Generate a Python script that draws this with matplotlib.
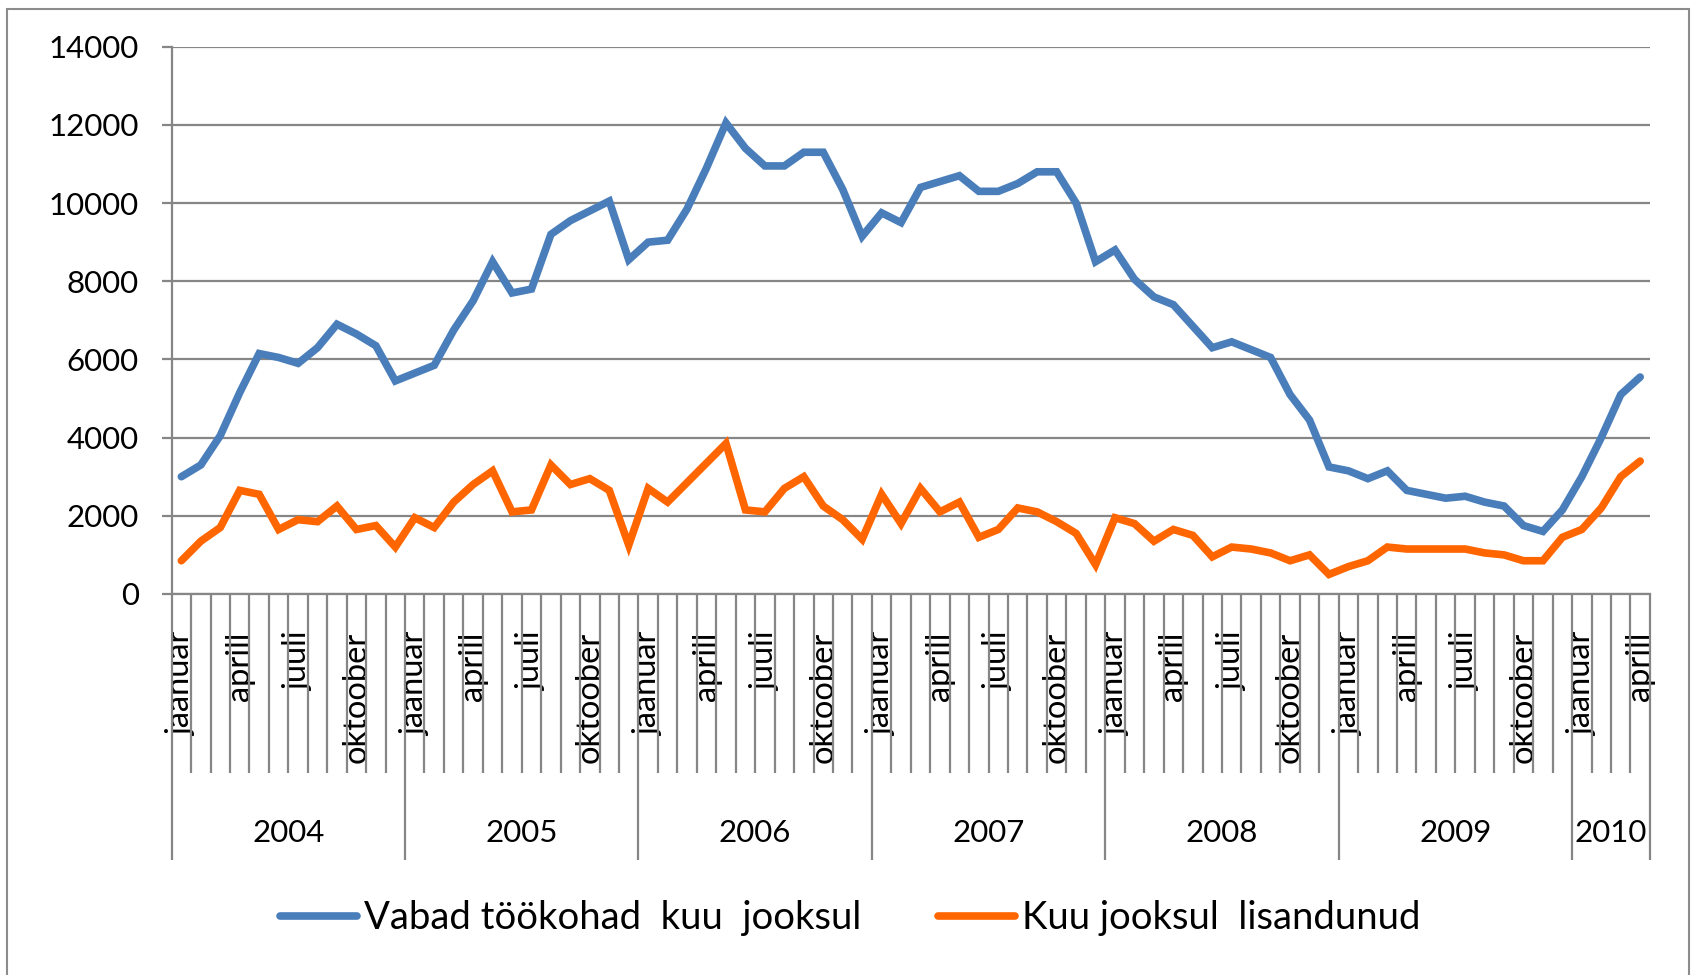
import matplotlib
matplotlib.use("Agg")
import matplotlib.pyplot as plt
from matplotlib.patches import Rectangle

plt.rcParams['font.family'] = ['Lato', 'DejaVu Sans']

# --- data (Jan 2004 .. Apr 2010, monthly) ---
months = ["jaanuar", "veebruar", "märts", "aprill", "mai", "juuni",
          "juuli", "august", "september", "oktoober", "november", "detsember"]
years = ["2004", "2005", "2006", "2007", "2008", "2009", "2010"]
months_per_year = [12, 12, 12, 12, 12, 12, 4]

vabad = [3000, 3300, 4050, 5150, 6150, 6050, 5900, 6300, 6900, 6650, 6350, 5450,
         5650, 5850, 6750, 7500, 8500, 7700, 7800, 9200, 9550, 9800, 10050, 8550,
         9000, 9050, 9850, 10900, 12050, 11400, 10950, 10950, 11300, 11300, 10350, 9150,
         9750, 9500, 10400, 10550, 10700, 10300, 10300, 10500, 10800, 10800, 10000, 8500,
         8800, 8050, 7600, 7400, 6850, 6300, 6450, 6250, 6050, 5100, 4450, 3250,
         3150, 2950, 3150, 2650, 2550, 2450, 2500, 2350, 2250, 1750, 1600, 2150,
         3000, 4000, 5100, 5550]
lisandunud = [850, 1350, 1700, 2650, 2550, 1650, 1900, 1850, 2250, 1650, 1750, 1200,
              1950, 1700, 2350, 2800, 3150, 2100, 2150, 3300, 2800, 2950, 2650, 1250,
              2700, 2350, 2850, 3350, 3850, 2150, 2100, 2700, 3000, 2250, 1900, 1400,
              2550, 1800, 2700, 2100, 2350, 1450, 1650, 2200, 2100, 1850, 1550, 750,
              1950, 1800, 1350, 1650, 1500, 950, 1200, 1150, 1050, 850, 1000, 500,
              700, 850, 1200, 1150, 1150, 1150, 1150, 1050, 1000, 850, 850, 1450,
              1650, 2200, 3000, 3400]
series_names = ["Vabad töökohad  kuu  jooksul", "Kuu jooksul  lisandunud"]

grid_col = "#868686"
blue = "#4A7EBB"
orange = "#FF6600"

n = len(vabad)
x = list(range(n))

fig = plt.figure(figsize=(16.91, 9.75), dpi=100)
ax = fig.add_axes([0.1015, 0.3908, 0.8742, 0.5613])

l1, = ax.plot(x, vabad, color=blue, lw=5.5, solid_joinstyle="miter", solid_capstyle="round")
l2, = ax.plot(x, lisandunud, color=orange, lw=5.5, solid_joinstyle="miter", solid_capstyle="round")

ax.set_xlim(-0.5, n - 0.5)
ax.set_ylim(0, 14000)
ax.set_yticks(range(0, 14001, 2000))
ax.yaxis.grid(True, color=grid_col, lw=1.6)
ax.set_axisbelow(True)
for s in ["top", "right"]:
    ax.spines[s].set_visible(False)
for s in ["left", "bottom"]:
    ax.spines[s].set_color(grid_col)
    ax.spines[s].set_linewidth(1.6)
ax.tick_params(axis="y", direction="out", length=7.5, width=1.6, color=grid_col,
               labelsize=22.5, pad=16)

# month labels, every third shown
labels = []
for i in range(n):
    labels.append(months[i % 12] if i % 3 == 0 else "")
ax.set_xticks(x)
ax.set_xticklabels(labels, rotation=90, ha="center", va="top")
ax.tick_params(axis="x", length=0, labelsize=23.5, pad=27)

# category separators: month-level short, year-level long
xt = ax.get_xaxis_transform()
year_edges = [0]
for m in months_per_year:
    year_edges.append(year_edges[-1] + m)
short = [k - 0.5 for k in range(n + 1) if k not in year_edges]
long_ = [k - 0.5 for k in year_edges]
ax.vlines(short, -0.327, 0, transform=xt, colors=grid_col, lw=1.6, clip_on=False)
ax.vlines(long_, -0.486, 0, transform=xt, colors=grid_col, lw=1.6, clip_on=False)

for yr, a, b in zip(years, year_edges[:-1], year_edges[1:]):
    ax.text((a + b - 1) / 2, -0.437, yr, transform=xt, ha="center", va="center",
            fontsize=22.5)

fig.legend([l1, l2], series_names, loc="center", bbox_to_anchor=(0.503, 0.0585),
           ncol=2, frameon=False, fontsize=27.5, handlelength=2.0,
           handletextpad=0.2, columnspacing=2.0)

fig.patches.append(Rectangle((7.3 / 1691, -0.01), (1689 - 7.3) / 1691, 1 - 9 / 975 + 0.01,
                             transform=fig.transFigure, fill=False,
                             edgecolor="#8c8c8c", lw=1.5))

fig.savefig("out.png", dpi=100)
